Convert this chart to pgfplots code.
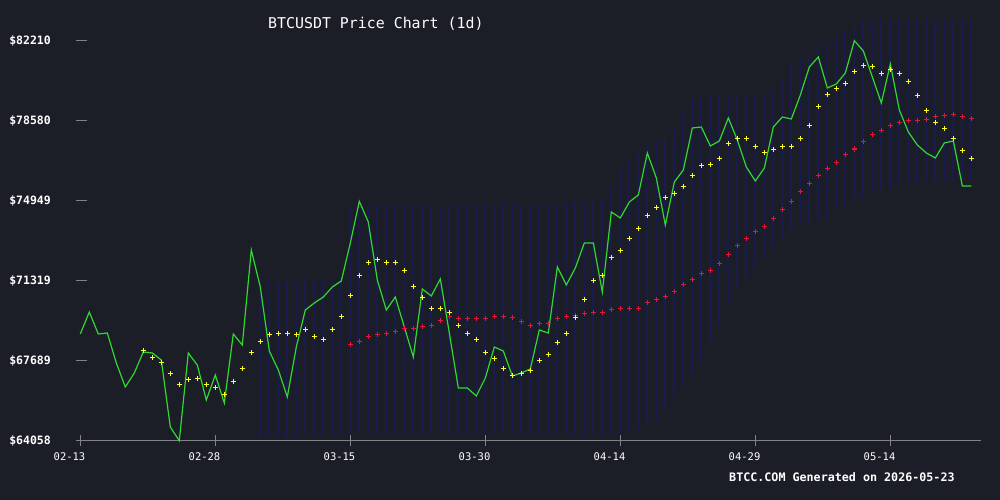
\documentclass[border=0pt]{standalone}
\usepackage{pgfplots}
\pgfplotsset{compat=1.18}
\usepackage{pgfplotstable}
\usepackage{fontspec}
\setmainfont{DejaVu Sans Mono}

\definecolor{bg}{RGB}{27,29,39}
\definecolor{band}{RGB}{24,26,80}
\definecolor{pricegreen}{RGB}{50,215,50}
\definecolor{maone}{RGB}{255,255,40}
\definecolor{matwo}{RGB}{220,25,60}
\definecolor{axisgray}{RGB}{130,130,140}

\pgfplotstableread{
d p
0 68900
1 69898
2 68900
3 68945
4 67584
5 66495
6 67130
7 68083
8 68038
9 67720
10 64680
11 64058
12 68038
13 67493
14 65905
15 67039
16 65769
17 68900
18 68401
19 72712
20 71033
21 68130
22 67266
23 66041
24 68310
25 69989
26 70307
27 70579
28 71033
29 71305
30 73030
31 74920
32 73983
33 71351
34 69989
35 70579
36 69218
37 67856
38 70942
39 70625
40 71396
41 68945
42 66450
43 66450
44 66087
45 66903
46 68310
47 68129
48 66994
49 67130
50 67312
51 69082
52 68945
53 71941
54 71124
55 71895
56 73030
57 73030
58 70806
59 74436
60 74164
61 74890
62 75208
63 77114
64 75979
65 73846
66 75798
67 76342
68 78248
69 78294
70 77432
71 77658
72 78702
73 77704
74 76479
75 75843
76 76433
77 78294
78 78748
79 78657
80 79746
81 81017
82 81470
83 80064
84 80245
85 80744
86 82210
87 81743
88 80563
89 79383
90 81153
91 79065
92 78067
93 77477
94 77114
95 76887
96 77568
97 77658
98 75616
99 75616
}\price

\pgfplotstableread{
d m
7 68129
8 67856
9 67629
10 67085
11 66586
12 66813
13 66903
14 66586
15 66450
16 66177
17 66767
18 67357
19 68038
20 68537
21 68855
22 68900
23 68900
24 68855
25 69082
26 68764
27 68673
28 69082
29 69672
30 70625
31 71577
32 72122
33 72258
34 72167
35 72122
36 71804
37 71078
38 70534
39 70035
40 70035
41 69898
42 69308
43 68945
44 68673
45 68083
46 67766
47 67312
48 67039
49 67130
50 67266
51 67675
52 67992
53 68492
54 68900
55 69626
56 70488
57 71305
58 71532
59 72349
60 72667
61 73211
62 73665
63 74255
64 74618
65 75072
66 75253
67 75571
68 76070
69 76524
70 76569
71 76842
72 77522
73 77749
74 77749
75 77386
76 77114
77 77250
78 77386
79 77386
80 77749
81 78384
82 79201
83 79746
84 80018
85 80290
86 80790
87 81062
88 81017
89 80699
90 80880
91 80699
92 80336
93 79701
94 79020
95 78475
96 78203
97 77749
98 77205
99 76842
}\maone

\pgfplotstableread{
d m
30 68446
31 68582
32 68764
33 68855
34 68900
35 68991
36 69127
37 69127
38 69218
39 69308
40 69490
41 69672
42 69581
43 69581
44 69581
45 69581
46 69672
47 69672
48 69626
49 69445
50 69308
51 69354
52 69399
53 69581
54 69672
55 69717
56 69808
57 69898
58 69898
59 69989
60 70035
61 70035
62 70035
63 70307
64 70488
65 70579
66 70806
67 71124
68 71351
69 71623
70 71804
71 72077
72 72485
73 72894
74 73211
75 73529
76 73756
77 74119
78 74527
79 74890
80 75344
81 75707
82 76115
83 76388
84 76705
85 77023
86 77295
87 77613
88 77931
89 78112
90 78339
91 78475
92 78566
93 78566
94 78611
95 78748
96 78793
97 78838
98 78748
99 78657
}\matwo

\pgfplotstableread{
d lo hi
20 64180 71400
21 64200 71350
22 64220 71300
23 64200 71300
24 64220 71320
25 64250 71350
26 64250 71400
27 64230 71420
28 64250 71400
29 64260 71420
30 64400 74600
31 64400 74650
32 64420 74700
33 64400 74700
34 64400 74700
35 64410 74720
36 64400 74720
37 64380 74700
38 64400 74720
39 64400 74750
40 64410 74750
41 64400 74750
42 64380 74740
43 64370 74750
44 64380 74800
45 64390 74820
46 64400 74840
47 64400 74840
48 64380 74830
49 64380 74820
50 64390 74800
51 64400 74800
52 64380 74820
53 64360 74850
54 64340 74870
55 64320 74880
56 64300 74900
57 64280 74950
58 64271 74981
59 64271 75571
60 64317 76569
61 64407 76796
62 64544 77114
63 64770 77477
64 64997 77704
65 65451 77840
66 65996 78158
67 66586 79065
68 67039 79519
69 67584 79655
70 68401 79746
71 69308 79746
72 70216 79746
73 70897 79746
74 71351 79746
75 71804 79746
76 72349 79746
77 72712 79973
78 73166 80427
79 73620 81107
80 73846 81334
81 73983 81561
82 74073 81879
83 74164 82106
84 74527 82333
85 74754 82696
86 74981 82922
87 75117 83149
88 75299 83149
89 75435 83149
90 75571 83149
91 75662 83149
92 75752 83149
93 75752 83149
94 75800 83149
95 75800 83149
96 75840 83149
97 75850 83149
98 75889 83149
99 75889 83149
}\bands

\begin{document}
\begin{tikzpicture}[x=1pt,y=1pt]
\fill[bg] (0,0) rectangle (1000,500);
\begin{axis}[
  at={(76pt,59.3pt)}, anchor=south west,
  scale only axis, width=904.7pt, height=430.7pt,
  xmin=-0.478, xmax=100.04,
  ymin=64058, ymax=83603,
  axis x line*=bottom, axis y line*=left,
  x axis line style={draw=axisgray, line width=1pt, -},
  y axis line style={draw=none},
  tick align=inside,
  major tick length=11pt,
  xtick={0,15,30,45,60,75,90},
  xticklabels={\mbox{02-13},\mbox{02-28},\mbox{03-15},\mbox{03-30},\mbox{04-14},\mbox{04-29},\mbox{05-14}},
  ytick={64058,67689,71319,74949,78580,82210},
  yticklabels={\textbf{\$64058},\textbf{\$67689},\textbf{\$71319},\textbf{\$74949},\textbf{\$78580},\textbf{\$82210}},
  xtick style={draw=axisgray, line width=1pt, yshift=-5.5pt},
  ytick style={draw=axisgray, line width=0.8pt},
  xticklabel style={font=\fontsize{10.5}{12}\selectfont, text=white, anchor=north, inner sep=0pt, xshift=-10.8pt, yshift=-12pt},
  yticklabel style={font=\fontsize{11.5}{13}\selectfont, text=white, anchor=east, inner sep=0pt, xshift=-25pt},
  clip=false,
]
\addplot[draw=none, mark=none, forget plot,
  error bars/.cd, y dir=plus, y explicit, error mark=none,
  error bar style={draw=band, line width=2pt, solid}]
  table[x=d, y=lo, y error plus expr=\thisrow{hi}-\thisrow{lo}] {\bands};
\addplot[pricegreen, line width=1.2pt, mark=none] table[x=d, y=p] {\price};
\addplot[only marks, mark=+, mark size=2.5pt, matwo, mark options={line width=1pt, solid}] table[x=d, y=m] {\matwo};
\addplot[only marks, mark=+, mark size=2.5pt, maone, mark options={line width=1pt, solid}] table[x=d, y=m] {\maone};
\end{axis}
\node[anchor=base west, inner sep=0pt, text=white, font=\fontsize{14.9}{16}\selectfont] at (268,471.7) {BTCUSDT Price Chart (1d)};
\node[anchor=base west, inner sep=0pt, text=white, font=\fontsize{11.7}{13}\selectfont\bfseries] at (729,18.3) {BTCC.COM Generated on 2026-05-23};
\pgfresetboundingbox
\useasboundingbox (0,0) rectangle (1000,500);
\end{tikzpicture}
\end{document}
